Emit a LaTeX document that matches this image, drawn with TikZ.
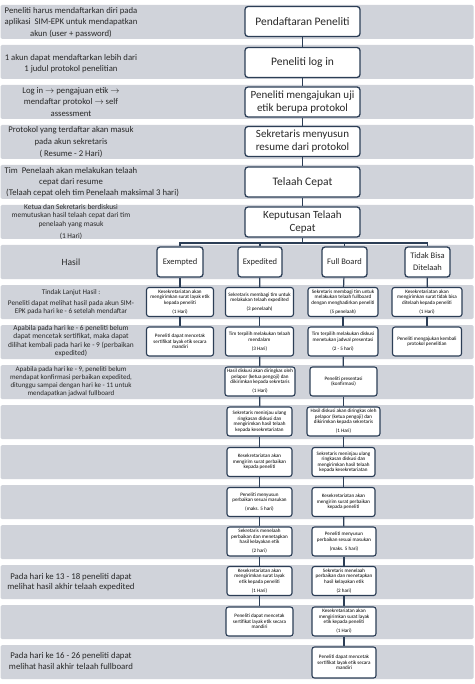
\documentclass[tikz,border=0pt]{standalone}
\usepackage{fontspec}
\setmainfont{Carlito}
\definecolor{bandc}{RGB}{208,211,218}
\definecolor{edge}{RGB}{44,62,86}
\definecolor{txt}{RGB}{40,40,40}
\begin{document}
\begin{tikzpicture}[x=1pt,y=-1pt,
  bandbox/.style={fill=bandc,draw=none,rounded corners=1.5pt},
  mainbox/.style={draw=edge,line width=1.3pt,rounded corners=3pt,fill=white,minimum width=115pt,minimum height=30pt,align=center,font=\fontsize{11}{13}\selectfont,text=txt,inner sep=1pt},
  mainone/.style={mainbox,font=\fontsize{11.5}{13}\selectfont},
  resbox/.style={mainbox,minimum width=45pt,font=\fontsize{8.5}{12}\selectfont},
  smallbox/.style={draw=edge,line width=1.1pt,rounded corners=2.5pt,fill=white,minimum height=29pt,align=center,font=\fontsize{5.1}{5.5}\selectfont,text=black,inner sep=1pt},
  lefttext/.style={align=center,text=txt,font=\fontsize{8.7}{11.2}\selectfont,inner sep=0pt},
  leftsmall/.style={lefttext,font=\fontsize{7.4}{8.1}\selectfont},
  conn/.style={draw=edge,line width=1.2pt}]
\useasboundingbox (0,0) rectangle (474,684);
\fill[white] (0,0) rectangle (474,684);
\foreach \i in {0,...,16} \fill[bandbox] (0.5,5+40*\i) rectangle (473.5,39+40*\i);

% left texts
\node[lefttext] (l1) at (71,22.5) {Peneliti harus mendaftarkan diri pada\\aplikasi\ \ SIM-EPK untuk mendapatkan\\akun (user + password)};
\node[lefttext] (l2) at (71,63.5) {1 akun dapat mendaftarkan lebih dari\\1 judul protokol penelitian};
\node[lefttext] (l3) at (71,102) {Log in $\rightarrow$ pengajuan etik $\rightarrow$\\mendaftar protokol $\rightarrow$ self\\assessment};
\node[lefttext,font=\fontsize{8.7}{12}\selectfont] (l4) at (71,142) {Protokol yang terdaftar akan masuk\\pada akun sekretaris\\( Resume - 2 Hari)};
\node[lefttext] (l5) at (71,177) {Tim\ \ Penelaah akan melakukan telaah\\cepat dari resume};
\node[lefttext,anchor=west] (l5b) at (6,193) {(Telaah cepat oleh tim Penelaah maksimal 3 hari)};
\node[lefttext,font=\fontsize{7.4}{8.3}\selectfont] (l6) at (71,222) {Ketua dan Sekretaris berdiskusi\\memutuskan hasil telaah cepat dari tim\\penelaah yang masuk\\[4pt](1 Hari)};
\node[lefttext,font=\fontsize{9.5}{11}\selectfont] (l7) at (71,262) {Hasil};
\node[leftsmall,font=\fontsize{7.2}{8.7}\selectfont] (l8) at (71,302.5) {Tindak Lanjut Hasil :\\[1.5pt]Peneliti dapat melihat hasil pada akun SIM-\\EPK pada hari ke - 6 setelah mendaftar};
\node[leftsmall] (l9) at (71,341) {Apabila pada hari ke - 6 peneliti belum\\dapat mencetak sertifikat, maka dapat\\dilihat kembali pada hari ke - 9 (perbaikan\\expedited)};
\node[leftsmall,font=\fontsize{7}{7.8}\selectfont] (l10) at (71,381.5) {Apabila pada hari ke - 9, peneliti belum\\mendapat konfirmasi perbaikan expedited,\\ditunggu sampai dengan hari ke - 11 untuk\\mendapatkan jadwal fullboard};
\node[lefttext,font=\fontsize{8.8}{10.5}\selectfont] (l15) at (71,582) {Pada hari ke 13 - 18 peneliti dapat\\melihat hasil akhir telaah expedited};
\node[lefttext,font=\fontsize{8.8}{10.5}\selectfont] (l17) at (71,661) {Pada hari ke 16 - 26 peneliti dapat\\melihat hasil akhir telaah fullboard};

% main column
\node[mainone] (m1) at (302.5,21.5) {Pendaftaran Peneliti};
\node[mainone] (m2) at (302.5,62.5) {Peneliti log in};
\node[mainbox] (m3) at (302.5,102) {Peneliti mengajukan uji\\etik berupa protokol};
\node[mainbox] (m4) at (302.5,141.5) {Sekretaris menyusun\\resume dari protokol};
\node[mainone] (m5) at (302.5,182) {Telaah Cepat};
\node[mainbox] (m6) at (302.5,222) {Keputusan Telaah\\Cepat};
\draw[conn] (m1) -- (m2);
\draw[conn] (m2) -- (m3);
\draw[conn] (m3) -- (m4);
\draw[conn] (m4) -- (m5);
\draw[conn] (m5) -- (m6);

% results
\node[resbox,minimum width=46pt] (exe) at (180,262) {Exempted};
\node[resbox,minimum width=44pt] (exd) at (260,262) {Expedited};
\node[resbox,minimum width=45pt] (fb) at (344.5,262) {Full Board};
\node[resbox,minimum width=45pt] (tdk) at (427.5,262) {Tidak Bisa\\Ditelaah};
\coordinate (br) at (302.5,243);
\draw[conn] (m6) -- (br);
\draw[conn] (exe.north) -- (exe.north |- br) -- (tdk.north |- br) -- (tdk.north);
\draw[conn] (exd.north) -- (exd.north |- br);
\draw[conn] (fb.north) -- (fb.north |- br);

% column A
\node[smallbox,minimum width=67pt] (a8) at (180,302) {Kesekretariatan akan\\mengirimkan surat layak etik\\kepada peneliti\\[3.5pt](1 Hari)};
\node[smallbox,minimum width=67pt] (a9) at (180,341.5) {Peneliti dapat mencetak\\sertifikat layak etik secara\\mandiri};
\draw[conn] (exe) -- (a8);
\draw[conn] (a8) -- (a9);

% column D
\node[smallbox,minimum width=70pt] (d8) at (427,302) {Kesekretariatan akan\\mengirimkan surat tidak bisa\\ditelaah kepada peneliti\\[3.5pt](1 Hari)};
\node[smallbox,minimum width=69pt] (d9) at (427,341.5) {Peneliti mengajukan kembali\\protokol penelitian};
\draw[conn] (tdk) -- (d8);
\draw[conn] (d8) -- (d9);

% column B (expedited)
\node[smallbox,minimum width=68pt] (b8) at (259.5,302) {Sekretaris membagi tim untuk\\melakukan telaah expedited\\[3.5pt](3 penelaah)};
\node[smallbox,minimum width=68pt] (b9) at (259.5,341.5) {Tim terpilih melakukan telaah\\mendalam\\[3.5pt](3 Hari)};
\node[smallbox,minimum width=70pt] (b10) at (260,381.5) {Hasil diskusi akan diringkas oleh\\pelapor (ketua pengoji) dan\\dikirimkan kepada sekretaris\\[3.5pt](1 Hari)};
\node[smallbox,minimum width=65pt] (b11) at (259.5,421.5) {Sekretaris meninjau ulang\\ringkasan diskusi dan\\mengirimkan hasil telaah\\kepada kesekretariatan};
\node[smallbox,minimum width=65pt] (b12) at (259.5,462) {Kesekretariatan akan\\mengirim surat perbaikan\\kepada peneliti};
\node[smallbox,minimum width=65pt] (b13) at (259.5,502) {Peneliti menyusun\\perbaikan sesuai masukan\\[3.5pt](maks. 5 hari)};
\node[smallbox,minimum width=65pt] (b14) at (259.5,541.5) {Sekretaris menelaah\\perbaikan dan menetapkan\\hasil kelayakan etik\\[3.5pt](2 hari)};
\node[smallbox,minimum width=65pt] (b15) at (259.5,581) {Kesekretariatan akan\\mengirimkan surat layak\\etik kepada peneliti\\[3.5pt](1 Hari)};
\node[smallbox,minimum width=67pt] (b16) at (259.5,621.5) {Peneliti dapat mencetak\\sertifikat layak etik secara\\mandiri};
\draw[conn] (exd) -- (b8);
\foreach \p/\q in {b8/b9,b9/b10,b10/b11,b11/b12,b12/b13,b13/b14,b14/b15,b15/b16} \draw[conn] (\p) -- (\q);

% column C (full board)
\node[smallbox,minimum width=70pt] (c8) at (343,302) {Sekretaris membagi tim untuk\\melakukan telaah fullboard\\dengan menghadirkan peneliti\\[3.5pt](5 penelaah)};
\node[smallbox,minimum width=70pt] (c9) at (343,341.5) {Tim terpilih melakukan diskusi\\menetukan jadwal presentasi\\[3.5pt](2 - 5 hari)};
\node[smallbox,minimum width=67pt] (c10) at (343.5,381.5) {Peneliti presentasi\\(konfirmasi)};
\node[smallbox,minimum width=73pt] (c11) at (343.5,421.5) {Hasil diskusi akan diringkas oleh\\pelapor (ketua pengoji) dan\\dikirimkan kepada sekretaris\\[3.5pt](1 Hari)};
\node[smallbox,minimum width=63pt] (c12) at (343.5,462) {Sekretaris meninjau ulang\\ringkasan diskusi dan\\mengirimkan hasil telaah\\kepada kesekretariatan};
\node[smallbox,minimum width=63pt] (c13) at (343.5,502) {Kesekretariatan akan\\mengirim surat perbaikan\\kepada peneliti};
\node[smallbox,minimum width=64pt] (c14) at (344,541.5) {Peneliti menyusun\\perbaikan sesuai masukan\\[3.5pt](maks. 5 hari)};
\node[smallbox,minimum width=64pt] (c15) at (344,581) {Sekretaris menelaah\\perbaikan dan menetapkan\\hasil kelayakan etik\\[3.5pt](2 hari)};
\node[smallbox,minimum width=64pt] (c16) at (344,621.5) {Kesekretariatan akan\\mengirimkan surat layak\\etik kepada peneliti\\[3.5pt](1 Hari)};
\node[smallbox,minimum width=64pt,minimum height=31pt] (c17) at (344,662.5) {Peneliti dapat mencetak\\sertifikat layak etik secara\\mandiri};
\draw[conn] (fb) -- (c8);
\foreach \p/\q in {c8/c9,c9/c10,c10/c11,c11/c12,c12/c13,c13/c14,c14/c15,c15/c16,c16/c17} \draw[conn] (\p) -- (\q);
\end{tikzpicture}
\end{document}
